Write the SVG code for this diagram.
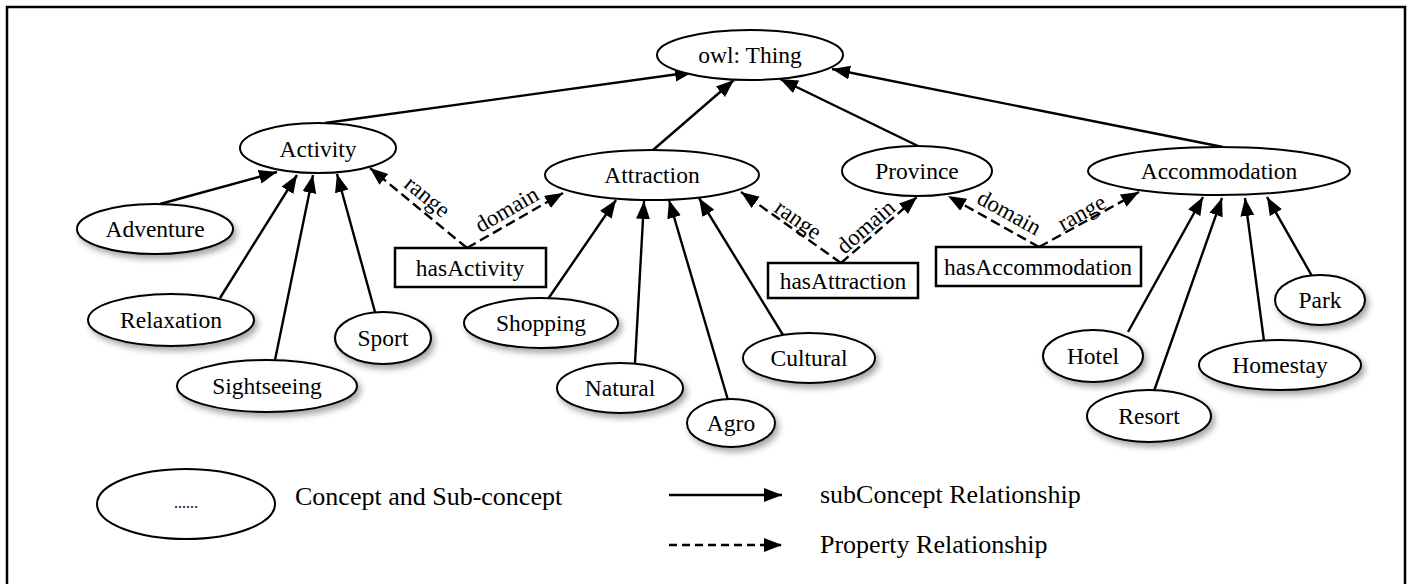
<svg xmlns="http://www.w3.org/2000/svg" width="1410" height="584" viewBox="0 0 1410 584">
<style>
  .node ellipse { fill: #fff; stroke: #000; stroke-width: 2; }
  .node text, .prop text, .lbl, .leg { font-family: "Liberation Serif", "Times New Roman", serif; fill: #000; }
  .node text { font-size: 23.5px; text-anchor: middle; }
  .child ellipse { filter: url(#sh); }
  .prop rect { fill: #fff; stroke: #000; stroke-width: 2.5; }
  .prop text { font-size: 23.5px; text-anchor: middle; }
  .solid { stroke: #000; stroke-width: 2.4; fill: none; marker-end: url(#arr); }
  .dash { stroke: #000; stroke-width: 2.4; fill: none; stroke-dasharray: 10 5; marker-end: url(#arr); }
  .lbl { font-size: 23px; text-anchor: middle; }
  .leg { font-size: 26px; }
</style>
<defs>
  <marker id="arr" markerUnits="userSpaceOnUse" markerWidth="19" markerHeight="15" refX="18" refY="7" orient="auto">
    <path d="M0,0 L18,7 L0,14 z" fill="#000" stroke="none"/>
  </marker>
  <filter id="sh" x="-20%" y="-30%" width="150%" height="170%">
    <feDropShadow dx="3" dy="4" stdDeviation="3" flood-color="#000" flood-opacity="0.35"/>
  </filter>
</defs>
<rect width="1410" height="584" fill="#fff"/>
<path d="M7,590 V7 H1405 V590" fill="none" stroke="#000" stroke-width="2.5"/>

<g id="connectors">
  <line class="solid" x1="325" y1="123" x2="693" y2="72"/>
  <line class="solid" x1="653" y1="150" x2="734" y2="80"/>
  <line class="solid" x1="918" y1="146" x2="780" y2="79"/>
  <line class="solid" x1="1223" y1="147" x2="832" y2="69"/>

  <line class="solid" x1="160" y1="204" x2="277" y2="172"/>
  <line class="solid" x1="220" y1="298" x2="297" y2="175"/>
  <line class="solid" x1="275" y1="360" x2="313" y2="175"/>
  <line class="solid" x1="375" y1="312" x2="337" y2="174"/>

  <line class="solid" x1="548" y1="299" x2="616" y2="200"/>
  <line class="solid" x1="635" y1="363" x2="644" y2="201"/>
  <line class="solid" x1="728" y1="400" x2="669" y2="200"/>
  <line class="solid" x1="783" y1="335" x2="699" y2="198"/>

  <line class="solid" x1="1128" y1="332" x2="1203" y2="197"/>
  <line class="solid" x1="1154" y1="391" x2="1222" y2="198"/>
  <line class="solid" x1="1264" y1="341" x2="1245" y2="198"/>
  <line class="solid" x1="1312" y1="276" x2="1267" y2="197"/>

  <line class="dash" x1="467" y1="248" x2="370" y2="168"/>
  <line class="dash" x1="467" y1="248" x2="563" y2="193"/>
  <line class="dash" x1="841" y1="263" x2="741" y2="192"/>
  <line class="dash" x1="841" y1="263" x2="917" y2="197"/>
  <line class="dash" x1="1039" y1="247" x2="948" y2="196"/>
  <line class="dash" x1="1039" y1="247" x2="1139" y2="192"/>

  <text class="lbl" transform="translate(427,197) rotate(39.5)" y="7">range</text>
  <text class="lbl" transform="translate(507,210) rotate(-30)" y="7">domain</text>
  <text class="lbl" transform="translate(798,220) rotate(35)" y="7">range</text>
  <text class="lbl" transform="translate(866,227) rotate(-41)" y="7">domain</text>
  <text class="lbl" transform="translate(1009,213) rotate(29)" y="7">domain</text>
  <text class="lbl" transform="translate(1082,213) rotate(-29)" y="7">range</text>
</g>

<g id="n-thing" class="node"><ellipse cx="750" cy="55" rx="93" ry="25"/><text x="750" y="63">owl: Thing</text></g>
<g id="n-activity" class="node"><ellipse cx="318" cy="148" rx="78" ry="25"/><text x="318" y="157">Activity</text></g>
<g id="n-attraction" class="node"><ellipse cx="652" cy="175" rx="107" ry="25"/><text x="652" y="183">Attraction</text></g>
<g id="n-province" class="node"><ellipse cx="917" cy="171" rx="75" ry="25"/><text x="917" y="179">Province</text></g>
<g id="n-accommodation" class="node"><ellipse cx="1219" cy="171" rx="131" ry="24"/><text x="1219" y="179">Accommodation</text></g>

<g id="n-adventure" class="node child"><ellipse cx="155" cy="229" rx="78" ry="25"/><text x="155" y="237">Adventure</text></g>
<g id="n-relaxation" class="node child"><ellipse cx="171" cy="320" rx="83" ry="26"/><text x="171" y="328">Relaxation</text></g>
<g id="n-sightseeing" class="node child"><ellipse cx="267" cy="386" rx="90" ry="26"/><text x="267" y="394">Sightseeing</text></g>
<g id="n-sport" class="node child"><ellipse cx="383" cy="338" rx="48" ry="26"/><text x="383" y="346">Sport</text></g>
<g id="n-shopping" class="node child"><ellipse cx="541" cy="323" rx="77" ry="25"/><text x="541" y="331">Shopping</text></g>
<g id="n-natural" class="node child"><ellipse cx="620" cy="388" rx="63" ry="25"/><text x="620" y="396">Natural</text></g>
<g id="n-agro" class="node child"><ellipse cx="731" cy="423" rx="44" ry="24"/><text x="731" y="431">Agro</text></g>
<g id="n-cultural" class="node child"><ellipse cx="809" cy="358" rx="66" ry="25"/><text x="809" y="366">Cultural</text></g>
<g id="n-hotel" class="node child"><ellipse cx="1093" cy="356" rx="50" ry="26"/><text x="1093" y="364">Hotel</text></g>
<g id="n-resort" class="node child"><ellipse cx="1149" cy="416" rx="62" ry="26"/><text x="1149" y="424">Resort</text></g>
<g id="n-homestay" class="node child"><ellipse cx="1280" cy="365" rx="81" ry="25"/><text x="1280" y="373">Homestay</text></g>
<g id="n-park" class="node child"><ellipse cx="1320" cy="300" rx="45" ry="25"/><text x="1320" y="308">Park</text></g>

<g id="p-hasActivity" class="prop"><rect x="395" y="248" width="151" height="39"/><text x="470" y="276">hasActivity</text></g>
<g id="p-hasAttraction" class="prop"><rect x="768" y="263" width="150" height="35"/><text x="843" y="289">hasAttraction</text></g>
<g id="p-hasAccommodation" class="prop"><rect x="936" y="247" width="205" height="39"/><text x="1038" y="275">hasAccommodation</text></g>

<g id="legend">
  <g id="legend-concept" class="node"><ellipse cx="186" cy="504" rx="89" ry="35"/><text x="186" y="508" style="font-size:16px">......</text></g>
  <text class="leg" x="295" y="505">Concept and Sub-concept</text>
  <line class="solid" x1="669" y1="495" x2="782" y2="495"/>
  <text class="leg" x="820" y="503">subConcept Relationship</text>
  <line class="dash" x1="669" y1="545" x2="782" y2="545" style="stroke-dasharray:8 5"/>
  <text class="leg" x="820" y="553">Property Relationship</text>
</g>
</svg>
